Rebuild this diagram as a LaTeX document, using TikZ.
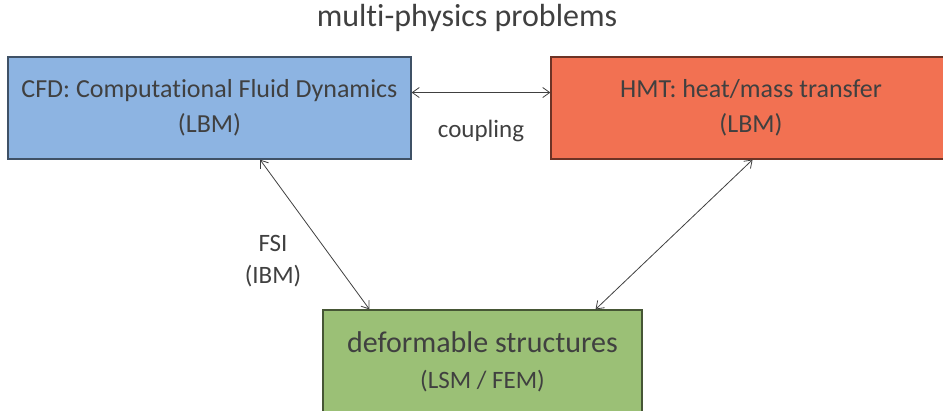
\documentclass[tikz,border=0pt]{standalone}
\usepackage{fontspec}
\setmainfont{Carlito}[Ligatures=NoCommon]
\usetikzlibrary{arrows.meta,calc}

\definecolor{cfdblue}{RGB}{141,180,226}
\definecolor{hmtred}{RGB}{242,113,82}
\definecolor{strgreen}{RGB}{155,192,118}
\definecolor{txtgray}{RGB}{64,64,64}

\tikzstyle{block} = [rectangle, draw, line width=1.2pt, text=txtgray,
	align=center, inner sep=0pt, font=\fontsize{26}{35}\selectfont]
\tikzstyle{link} = [{Straight Barb[length=7pt,width=10pt]}-{Straight Barb[length=7pt,width=10pt]},
	line width=0.8pt, draw=txtgray]

\begin{document}
\begin{tikzpicture}[x=1pt, y=-1pt]
	\useasboundingbox (0,0) rectangle (943,410);
	\clip (0,0) rectangle (943,410);
	
	\node [text=txtgray, font=\fontsize{32}{38}\selectfont] (title) at (467,18) {multi-physics problems};
	
	\node [block, fill=cfdblue, draw=cfdblue!45!black, minimum width=403pt, minimum height=102pt] (CFD) at (209.5,108) {CFD: Computational Fluid Dynamics\\(LBM)};
	\node [block, fill=hmtred, draw=hmtred!45!black, minimum width=400pt, minimum height=102pt] (HMT) at (751,108) {HMT: heat/mass transfer\\(LBM)};
	\node [block, fill=strgreen, draw=strgreen!45!black, minimum width=319pt, minimum height=104pt,
		font=\fontsize{30}{36}\selectfont] (DS) at (482.5,362) {deformable structures\\{\fontsize{25}{30}\selectfont (LSM / FEM)}};
	
	% couplings between the solvers
	\draw [link] ($(CFD.north east)!0.35!(CFD.south east)$) -- node [below=24pt, text=txtgray, font=\fontsize{25}{30}\selectfont] (cpl) {coupling} ($(HMT.north west)!0.35!(HMT.south west)$);
	\draw [link] ($(CFD.south west)!0.625!(CFD.south east)$) -- ($(DS.north west)!0.147!(DS.north east)$);
	\draw [link] ($(HMT.south west)!0.504!(HMT.south east)$) -- ($(DS.north west)!0.853!(DS.north east)$);
	
	\node [text=txtgray, align=center, font=\fontsize{25}{32}\selectfont] (fsi) at (273,261) {FSI\\(IBM)};
\end{tikzpicture}
\end{document}
